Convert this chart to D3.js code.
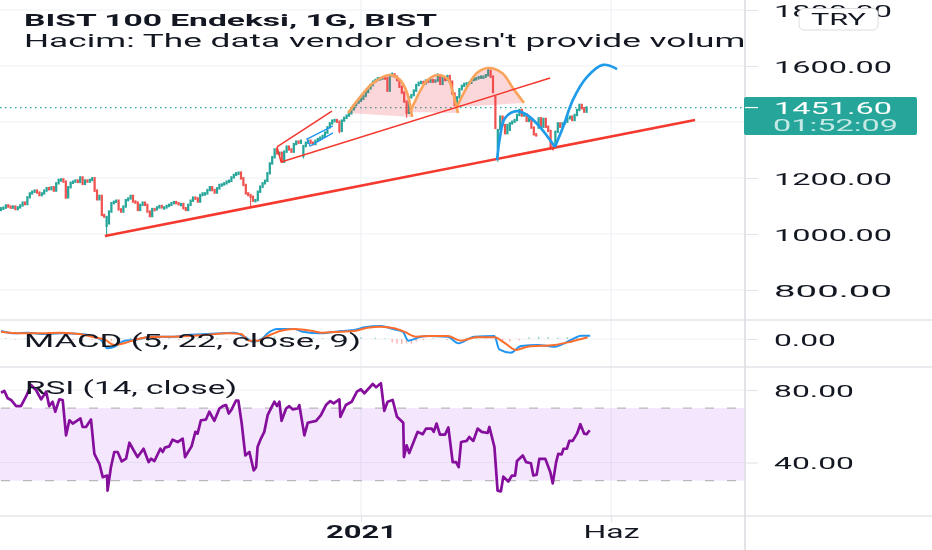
<!DOCTYPE html>
<html><head><meta charset="utf-8">
<script src="https://cdn.jsdelivr.net/npm/d3@7"></script>
<style>html,body{margin:0;padding:0;background:#fff;overflow:hidden}svg{display:block;filter:blur(.4px)}text{font-family:Roboto,sans-serif;fill:#131722}</style>
</head><body><svg id="c" width="932" height="550"></svg>
<script>
const closes=[1092,1094,1102,1098,1097,1098,1089,1095,1102,1112,1107,1131,1145,1151,1155,1148,1139,1145,1155,1164,1160,1167,1155,1181,1193,1195,1187,1131,1167,1183,1187,1191,1186,1202,1179,1191,1187,1193,1199,1155,1124,1136,1068,1062,1060,1080,1110,1115,1119,1088,1080,1098,1121,1127,1136,1116,1112,1086,1104,1112,1104,1080,1064,
1089,1088,1095,1100,1095,1095,1100,1104,1110,1114,1110,1107,1107,1092,1086,1104,1119,1130,1127,1116,1139,1145,1145,1157,1167,1157,1148,1163,1175,1177,1181,1187,1190,1202,1211,1217,1219,1199,1175,1145,1139,1133,1119,1121,1151,1169,1181,1190,1217,1252,
1274,1302,1288,1290,1258,1294,1312,1302,1294,1321,1330,1326,1333,1314,1326,1333,1326,1321,1333,1339,1344,1350,1362,1381,1395,1405,1407,1401,1368,1405,1415,1423,1431,1445,1460,1469,1476,1483,1493,1507,1520,1532,1544,1550,1556,1556,1559,1556,1512,1568,1570,1562,1550,1526,1505,1473,1433,
1488,1496,1512,1532,1540,1543,1538,1548,1544,1550,1544,1548,1567,1536,1556,1550,1564,1544,1502,1461,1488,1517,1529,1536,1538,1540,1550,1555,1556,1560,1562,1562,1567,1583,1562,1507,1379,
1371,1419,1389,1360,1389,1395,1401,1407,1425,1443,1423,1427,1404,1411,1380,1356,1354,1413,1383,1411,1383,1368,1308,1306,1365,1395,1383,1395,1401,1413,1419,1407,1425,1443,1461,1449,1437,1451.6];
const openOverrides=[[44,1029],[45,1038],[161,1556],[206,1489],[207,1306],[208,1375],[212,1372],[224,1380],[231,1310],[126,1280]];
const wickLows=[[44,988],[207,1258],[169,1415],[229,1300],[230,1298],[126,1270],[27,1125],[39,1150],[100,1195],[141,1360],[104,1095]];
const wickHighs=[[205,1565],[44,1065],[182,1575],[203,1592],[163,1578],[100,1222]];
const rsiBars=[0,1.4,2.8,4.2,6.3,8.3,10.4,12.5,14.6,16.7,18.8,20.1,21.5,22.6,24.3,25.7,27.1,28.5,29.9,33.1,34,35.4,37.5,38.9,41,42.4,44.2,44.4,45.8,47.2,48.6,50.3,52.1,53.5,54.9,56.9,59.4,61.5,62.5,63.9,66.4,67.4,68.3,70.1,71.5,73.6,75.7,76.7,79.4,81,81.9,83.3,85.4,86.8,88.9,91,92.4,93.8,94.9,96.1,97.9,98.9,100.3,101.8,103.5,105.3,106.3,106.9,108.3,109.7,111.1,112.8,113.9,115,116,116.9,118.8,120.1,121.5,123.6,124.3,126.4,127.8,131.3,133.3,135.4,137.2,138.6,141,141.4,143.7,146.1,148.3,150,151.4,154.9,156.3,158.3,159.7,161.1,163.2,165,167.6,167.9,169,170.1,173.6,175.7,177.1,179.4,180.3,181.5,182.9,185,186.4,188.2,189.6,190.7,191.7,194,195.1,196.8,198.6,200.3,202.8,203.5,205.6,206.9,208.3,209.3,211.4,212.9,214.2,215,217.4,218.8,220.8,221.8,223.2,224.3,226.8,228.9,229.9,231.3,232.2,233.6,234.4,235.8,236.8,238.2,240,241.4,243,244,245.3];
const rsiValues=[78.5,79.5,75.4,74.5,71.1,71.1,76.3,82.8,80,74.8,79.1,71.1,73.5,68,74.8,74.5,55,63.3,61.5,64.3,59.6,59.6,63.7,44.8,39.3,31.9,32.8,24.5,37.4,45.8,45.8,40.6,42.1,50.9,47.6,43,47.6,40.2,42.1,40.8,47.6,45.8,48.2,48.9,52.6,51.3,53.2,43,48.9,56.9,55.9,63.3,63.7,68,63,69.8,71.1,71.7,67,69.3,74.1,74.1,61.5,43.9,45.8,35.6,37.4,48.5,53.2,56.9,66.1,70.7,73.5,71.1,73.5,63,69.8,71.1,69.3,69.8,71.7,55,61.9,63,66.1,71.7,73.9,72.6,74.8,65.2,71.7,73.5,79.1,80.4,78.2,83.3,81.5,83.7,68.5,73.5,74.5,65.2,61.9,43,49.5,45.2,56.9,55.6,58.7,58.7,56.9,61.5,55.4,55.4,59.3,40.2,40.2,37.4,51.3,51.9,54.1,51.9,58.7,56.9,56.3,59.6,48.5,24.5,24.1,32.2,29.5,32.8,32.8,40.8,43.9,40.2,39.6,32.8,33.3,42,42,34.6,28.5,40.2,44.8,44.5,47.6,47.6,51.9,51.9,55.9,61.1,55.9,55.6,57.8];
const macdBars=[0,5.6,11.1,16.7,25,33.3,38.9,41.7,44.4,47.9,51.4,55.6,61.1,66.7,72.2,77.8,86.1,97.2,101.4,104.9,109,111.1,115.3,122.2,125.7,133.3,141.7,147.2,151.4,158.3,163.2,167.4,169.7,175,177.8,186.1,190.6,197.2,205.6,207.6,212.5,216.7,223.6,230.6,237.5,241.7,245.5];
const macdValues=[24,17,19,15,17,15,7,-3,-28,-21,-5,-3,5,7,7,12,15,19,7,-8,2,17,30,30,22,17,24,27,35,39,30,22,-5,7,9,7,-13,7,9,-31,-41,-21,-18,-23,-3,10,10];
const signalBars=[0,8.3,16.7,25,33.3,38.9,43.1,47.2,50,55.6,61.1,66.7,72.2,77.8,86.1,94.4,100,103.5,106.9,111.1,116.7,122.2,129.2,133.3,141.7,147.2,152.8,158.3,163.9,168,172.9,179.2,186.1,191.7,197.9,205.6,209.7,214.6,219.4,230.6,237.5,244.4];
const signalValues=[22,17,17,19,14,5,-1,-18,-15,-3,5,7,7,9,13,17,15,-5,-5,9,25,30,25,19,22,24,34,37,32,22,7,9,9,-5,5,5,-11,-33,-23,-18,-8,5];
const histBars=[2,6,10,14,30,34,38,42,46,50,54,58,62,66,70,74,78,82,86,90,94,98,102,106,110,114,118,122,126,130,134,138,142,150,156,160,163,165,167,169,171,173,176,180,186,190,194,198,202,206,209,212,216,220,224,228,232,236,240,244];
const histValues=[2,-2,2,-2,-3,-4,-3,4,-6,2,4,3,2,3,3,-3,2,3,4,3,-3,-2,-4,-5,3,8,4,4,-5,3,2,3,3,5,4,2,-10,-14,-15,-13,-14,-8,-3,2,-3,-5,4,4,2,-4,-12,-8,-4,5,7,6,4,6,8,9];
const thickLine=[[43.3,993],[289.2,1407]];
const wedgeLines=[[[115,1311],[137.9,1439]],[[115,1311],[116.7,1257]],[[116.7,1257],[228.8,1557]]];
const channelLine=[[138.3,1386],[127.5,1339],[128.8,1314],[138.3,1361]];
const orangeArcs=[
 [[144.6,1432],[149.6,1489],[155,1539],[162,1568],[166.3,1550],[169.2,1504],[171.3,1418]],
 [[170.4,1436],[172.3,1470],[174.6,1510],[177.5,1548],[181.7,1568],[186.3,1552],[188.3,1504],[190.4,1432]],
 [[190,1454],[194.2,1525],[198.3,1575],[202.9,1593],[208.8,1575],[213.3,1521],[217.9,1468]]];
const blueArcs=[
 [[206.7,1264],[207.9,1346],[210,1414],[215,1439],[219.2,1425],[224.6,1382],[230.8,1311]],
 [[230.8,1311],[234.2,1382],[238.3,1479],[244.2,1561],[250.8,1604],[256.7,1589]]];
const priceTicks=[1800,1600,1400,1200,1000,800];
const macdTicks=[0];
const rsiTicks=[80,40];
const timeTickBars=[150,254.2];
const timeTickLabels=["2021","Haz"];

const svg=d3.select("#c");
const W=932,H=550,axX=745;
const x=d3.scaleLinear().domain([0,100]).range([1,241]);
const yP=d3.scaleLinear().domain([800,1600]).range([290,66]);
const yM=d3.scaleLinear().domain([-30,30]).range([349,329]);
const yR=d3.scaleLinear().domain([40,80]).range([462.5,390]);
const GRID="#f0f2f6",SEP="#e3e5e9",UP="#26a69a",DN="#ef5350";

const clip=svg.append("defs").append("clipPath").attr("id","pane");
clip.append("rect").attr("x",0).attr("y",0).attr("width",axX).attr("height",H);

const g=svg.append("g");
g.selectAll("line.hg").data(priceTicks).join("line").attr("x1",0).attr("x2",axX).attr("y1",d=>yP(d)).attr("y2",d=>yP(d)).attr("stroke",GRID).attr("stroke-width",1.2);
g.selectAll("line.rg").data(rsiTicks).join(enter=>enter.append("line")).attr("class","rg");
g.selectAll("line.rg").attr("x1",0).attr("x2",axX).attr("y1",d=>yR(d)).attr("y2",d=>yR(d)).attr("stroke",GRID).attr("stroke-width",1.2);
g.append("line").attr("x1",0).attr("x2",axX).attr("y1",yM(0)).attr("y2",yM(0)).attr("stroke",GRID).attr("stroke-width",1.2);
g.selectAll("line.vg").data(timeTickBars).join(enter=>enter.append("line")).attr("class","vg").attr("x1",d=>x(d)).attr("x2",d=>x(d)).attr("y1",0).attr("y2",516).attr("stroke",GRID).attr("stroke-width",1.4);

// RSI band
g.append("rect").attr("x",0).attr("width",axX).attr("y",yR(70)).attr("height",yR(30)-yR(70)).attr("fill","#9b27f0").attr("opacity",.11);
[70,30].forEach(v=>g.append("line").attr("x1",0).attr("x2",axX).attr("y1",yR(v)).attr("y2",yR(v)).attr("stroke","#b9b9bd").attr("stroke-width",1.2).attr("stroke-dasharray","9 13").attr("stroke-dashoffset",-1));

// last price line
g.append("line").attr("x1",0).attr("x2",axX).attr("y1",yP(1451.6)).attr("y2",yP(1451.6)).attr("stroke",UP).attr("stroke-width",1.2).attr("stroke-dasharray","1.5 3.5");

// candles
const candles=closes.map((c,i)=>{
  const ov=openOverrides.find(o=>o[0]===i);
  const o=ov?ov[1]:(i?closes[i-1]:c-6);
  const lo=wickLows.find(w=>w[0]===i), hi=wickHighs.find(w=>w[0]===i);
  return {i,o,c,l:lo?lo[1]:Math.min(o,c),h:hi?hi[1]:Math.max(o,c)};
});
const cg=g.append("g");
cg.selectAll("line").data(candles).join("line").attr("x1",d=>x(d.i)).attr("x2",d=>x(d.i)).attr("y1",d=>yP(d.h)).attr("y2",d=>yP(d.l)).attr("stroke",d=>d.c>=d.o?UP:DN).attr("stroke-width",1.1);
cg.selectAll("rect").data(candles).join("rect").attr("x",d=>x(d.i)-1.1).attr("width",2.2)
  .attr("y",d=>yP(Math.max(d.o,d.c))-1.2).attr("height",d=>Math.max(3.5,Math.abs(yP(d.o)-yP(d.c))+2.4)).attr("fill",d=>d.c>=d.o?UP:DN);

// drawings
const ln=d3.line().x(d=>x(d[0])).y(d=>yP(d[1]));
const arcLn=d3.line().x(d=>x(d[0])).y(d=>yP(d[1])).curve(d3.curveCatmullRom.alpha(.5));
orangeArcs.forEach(a=>{
  g.append("path").attr("d",arcLn(a)+"Z").attr("fill","#f23645").attr("opacity",.2);
});
orangeArcs.forEach(a=>{
  g.append("path").attr("d",arcLn(a)).attr("fill","none").attr("stroke","#f9a35b").attr("stroke-width",2.6);
});
wedgeLines.forEach(l=>g.append("path").attr("d",ln(l)).attr("fill","none").attr("stroke","#f5382d").attr("stroke-width",1.5));
g.append("path").attr("d",ln(channelLine)).attr("fill","none").attr("stroke","#2196f3").attr("stroke-width",1.3);
g.append("path").attr("d",ln(thickLine)).attr("fill","none").attr("stroke","#f5392e").attr("stroke-width",2.6);
blueArcs.forEach(a=>g.append("path").attr("d",arcLn(a)).attr("fill","none").attr("stroke","#1e9be9").attr("stroke-width",2.7));

// MACD
g.selectAll("rect.h").data(histBars).join(enter=>enter.append("rect")).attr("class","h")
 .attr("x",d=>x(d)-.7).attr("width",1.4)
 .attr("y",(d,i)=>Math.min(yM(0),yM(histValues[i]))).attr("height",(d,i)=>Math.abs(yM(histValues[i])-yM(0)))
 .attr("fill",(d,i)=>histValues[i]>=0?UP:DN).attr("opacity",.45);
const ml=d3.line().x(d=>x(d[0])).y(d=>yM(d[1])).curve(d3.curveMonotoneX);
g.append("path").attr("d",ml(d3.zip(macdBars,macdValues))).attr("fill","none").attr("stroke","#2196f3").attr("stroke-width",2);
g.append("path").attr("d",ml(d3.zip(signalBars,signalValues))).attr("fill","none").attr("stroke","#ff6d2d").attr("stroke-width",2);

// RSI
g.append("path").attr("d",d3.line().x(d=>x(d[0])).y(d=>yR(d[1]))(d3.zip(rsiBars,rsiValues))).attr("fill","none").attr("stroke","#860e9d").attr("stroke-width",2.7).attr("stroke-linejoin","round");

// pane labels
function label(t,px,py,size,len,weight,fill){
  return svg.append("text").attr("x",px).attr("y",py).attr("font-size",size).attr("font-weight",weight||400)
    .attr("textLength",len).attr("lengthAdjust","spacingAndGlyphs").style("fill",fill||"#131722").text(t);
}
label("BIST 100 Endeksi, 1G, BIST",24,26,17,413,700);
label("Hacim: The data vendor doesn't provide volume",24,47,17.5,740,400).attr("clip-path","url(#pane)");
label("MACD (5, 22, close, 9)",24,347,18,337,400);
label("RSI (14, close)",25,394,18,212,400);

// separators
[320,367,516].forEach(v=>svg.append("line").attr("x1",0).attr("x2",W).attr("y1",v).attr("y2",v).attr("stroke",SEP).attr("stroke-width",1.5));
svg.append("line").attr("x1",axX).attr("x2",axX).attr("y1",0).attr("y2",H).attr("stroke","#dfe1e5").attr("stroke-width",1.8);

// price axis
function styleAxis(sel,lenFn){
  sel.select(".domain").remove();
  sel.selectAll(".tick line").attr("stroke",SEP).attr("stroke-width",1.2);
  sel.selectAll(".tick text").attr("font-size",17).attr("font-family","Roboto,sans-serif").attr("x",29).attr("dy",0).attr("y",6)
    .attr("text-anchor","start").attr("textLength",lenFn).attr("lengthAdjust","spacingAndGlyphs");
}
const fmt=d=>d3.format(".2f")(d);
svg.append("g").attr("transform",`translate(${axX},0)`)
  .call(d3.axisRight(yP).tickValues(priceTicks).tickSize(13).tickFormat(d=>d===1400?"":fmt(d))).call(styleAxis,118);
svg.append("g").attr("transform",`translate(${axX},0)`)
  .call(d3.axisRight(yM).tickValues(macdTicks).tickSize(13).tickFormat(fmt)).call(styleAxis,62);
svg.append("g").attr("transform",`translate(${axX},0)`)
  .call(d3.axisRight(yR).tickValues(rsiTicks).tickSize(13).tickFormat(fmt)).call(styleAxis,80);

// last price label
svg.append("rect").attr("x",axX-1).attr("y",97).attr("width",173).attr("height",38).attr("rx",2).attr("fill",UP);
svg.append("line").attr("x1",axX).attr("x2",758).attr("y1",yP(1451.6)).attr("y2",yP(1451.6)).attr("stroke","#fff").attr("stroke-width",1.2);
label("1451.60",774,113.5,17,118,400,"#fff");
label("01:52:09",773,131,17,125,400,"#c4e8e4");

// currency badge
svg.append("rect").attr("x",799).attr("y",8.5).attr("width",79).attr("height",21.5).attr("rx",5).attr("fill","#fff").attr("stroke","#dadce0").attr("stroke-width",1);
label("TRY",811,24.5,16,55,400);

// time axis
const tAxis=svg.append("g").attr("transform","translate(0,516)")
  .call(d3.axisBottom(x).tickValues(timeTickBars).tickSize(6).tickFormat((d,i)=>timeTickLabels[i]));
tAxis.select(".domain").remove();
tAxis.selectAll(".tick line").attr("stroke",SEP).attr("stroke-width",1.2);
tAxis.selectAll(".tick text").attr("font-size",18).attr("font-family","Roboto,sans-serif").attr("y",22).attr("dy",0)
  .attr("font-weight",(d,i)=>i===0?700:400).attr("textLength",(d,i)=>i===0?71:56).attr("lengthAdjust","spacingAndGlyphs");
</script></body></html>
